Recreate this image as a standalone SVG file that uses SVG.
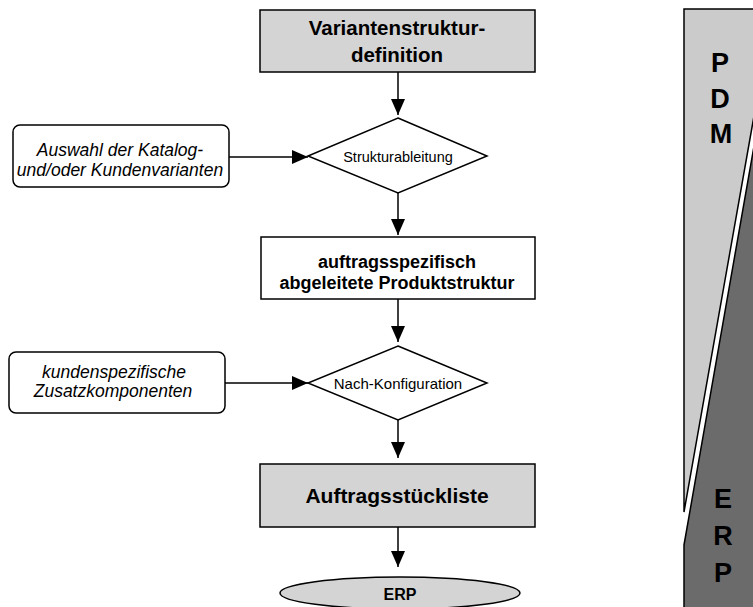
<svg xmlns="http://www.w3.org/2000/svg" width="753" height="607" viewBox="0 0 753 607">
  <style>
    text { font-family: "Liberation Sans", Arial, sans-serif; fill: #000; text-anchor: middle; }
    .box { stroke: #000; stroke-width: 1.5; }
    .grey { fill: #d4d4d4; }
    .white { fill: #fff; }
    .in { fill: #fff; stroke: #000; stroke-width: 1.5; }
    .bold { font-weight: bold; }
    .it { font-style: italic; font-size: 17.5px; }
    .side { font-weight: bold; font-size: 27px; }
    .conn line { stroke: #000; stroke-width: 1.5; marker-end: url(#head); }
  </style>
  <defs>
    <marker id="head" markerUnits="userSpaceOnUse" markerWidth="16" markerHeight="14" refX="16" refY="7" orient="auto">
      <path d="M0,0 L16,7 L0,14 z" fill="#000"/>
    </marker>
  </defs>

  <!-- PDM / ERP side bands -->
  <g id="band-pdm">
    <polygon points="684,9 760,9 760,82 684,512" fill="#cbcbcb" stroke="#000" stroke-width="1.5"/>
    <text class="side" x="720" y="72">P</text>
    <text class="side" x="720" y="108">D</text>
    <text class="side" x="721" y="143">M</text>
  </g>
  <g id="band-erp">
    <polygon points="684,545 760,112 760,615 684,615" fill="#6b6b6b" stroke="#000" stroke-width="1.5"/>
    <text class="side" x="723" y="508">E</text>
    <text class="side" x="723" y="545">R</text>
    <text class="side" x="723" y="582">P</text>
  </g>

  <!-- Connectors -->
  <g id="connectors" class="conn">
    <line x1="398" y1="72" x2="398" y2="115"/>
    <line x1="229" y1="157" x2="308" y2="157"/>
    <line x1="398" y1="193" x2="398" y2="235"/>
    <line x1="398" y1="299" x2="398" y2="342"/>
    <line x1="225" y1="383" x2="308" y2="383"/>
    <line x1="398" y1="420" x2="398" y2="458"/>
    <line x1="398" y1="527" x2="398" y2="567"/>
  </g>

  <!-- Nodes -->
  <g id="variantenstrukturdefinition">
    <rect class="box grey" x="260" y="10" width="275" height="62"/>
    <text class="bold" x="397" y="35" font-size="20.5">Variantenstruktur-</text>
    <text class="bold" x="397" y="62" font-size="20.5">definition</text>
  </g>

  <g id="auswahl">
    <rect class="in" x="13" y="125" width="216" height="62" rx="7"/>
    <text class="it" x="120" y="156">Auswahl der Katalog-</text>
    <text class="it" x="120" y="176">und/oder Kundenvarianten</text>
  </g>

  <g id="strukturableitung">
    <polygon class="in" points="398,118 487,156 398,193 308,156"/>
    <text x="398" y="162" font-size="14.5">Strukturableitung</text>
  </g>

  <g id="produktstruktur">
    <rect class="box white" x="261" y="237" width="274" height="62"/>
    <text class="bold" x="397" y="268" font-size="18">auftragsspezifisch</text>
    <text class="bold" x="397" y="289" font-size="18">abgeleitete Produktstruktur</text>
  </g>

  <g id="zusatzkomponenten">
    <rect class="in" x="9" y="352" width="216" height="61" rx="7"/>
    <text class="it" x="114" y="378">kundenspezifische</text>
    <text class="it" x="113" y="397">Zusatzkomponenten</text>
  </g>

  <g id="nachkonfiguration">
    <polygon class="in" points="398,346 487,383 398,420 308,383"/>
    <text x="398" y="389" font-size="15">Nach-Konfiguration</text>
  </g>

  <g id="auftragsstueckliste">
    <rect class="box grey" x="260" y="464" width="275" height="63"/>
    <text class="bold" x="397" y="503" font-size="21">Auftragsstückliste</text>
  </g>

  <g id="erp">
    <ellipse class="box grey" cx="400" cy="593" rx="120" ry="16"/>
    <text class="bold" x="400" y="600" font-size="16">ERP</text>
  </g>
</svg>
